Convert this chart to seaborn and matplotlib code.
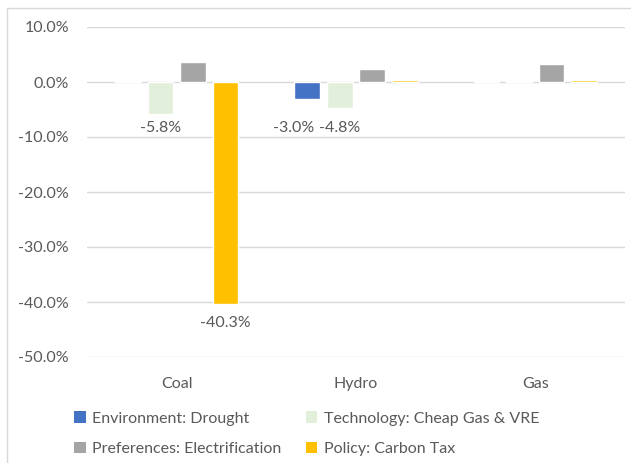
import matplotlib
matplotlib.use("Agg")
import matplotlib.pyplot as plt
import seaborn as sns
import pandas as pd
from matplotlib.lines import Line2D
from matplotlib.patches import Patch

categories = ["Coal", "Hydro", "Gas"]
series = ["Environment: Drought", "Technology: Cheap Gas & VRE",
          "Preferences: Electrification", "Policy: Carbon Tax"]
drought = [0.1, -3.0, 0.1]
technology = [-5.8, -4.8, 0.1]
preferences = [3.6, 2.4, 3.3]
policy = [-40.3, 0.3, 0.3]
labelled = {("Coal", "Technology: Cheap Gas & VRE"), ("Coal", "Policy: Carbon Tax"),
            ("Hydro", "Environment: Drought"), ("Hydro", "Technology: Cheap Gas & VRE")}
label_dx = {("Hydro", "Environment: Drought"): -10}
colors = ["#4472C4", "#E2EFDA", "#A5A5A5", "#FFC000"]
yticks = [10, 0, -10, -20, -30, -40, -50]

rows = []
for s, vals in zip(series, [drought, technology, preferences, policy]):
    for c, v in zip(categories, vals):
        rows.append({"cat": c, "series": s, "value": v})
df = pd.DataFrame(rows)

sns.set_theme(style="white")
plt.rcParams["font.family"] = ["Lato", "DejaVu Sans"]
txt = "#595959"
fs = 11.5

fig = plt.figure(figsize=(6.31, 4.63), dpi=100)
ax = fig.add_axes([87/631, 1-357/463, (625-87)/631, (357-27)/463])
sns.barplot(data=df, x="cat", y="value", hue="series", order=categories,
            hue_order=series, palette=colors, width=0.725, gap=0.215,
            saturation=1, ax=ax, legend=False, errorbar=None)
ax.set_xlim(-0.5, 2.5)
ax.set_ylim(-50, 10)
ax.set_yticks(yticks)
ax.set_yticklabels([f"{t:.1f}%" for t in yticks])
ax.grid(axis="y", color="#D9D9D9", linewidth=1)
ax.set_axisbelow(True)
for sp in ax.spines.values():
    sp.set_visible(False)
ax.tick_params(axis="both", length=0, labelsize=fs, labelcolor=txt)
ax.tick_params(axis="y", pad=13)
ax.tick_params(axis="x", pad=14.5)
ax.set_xlabel("")
ax.set_ylabel("")

# data labels
for container, s in zip(ax.containers, series):
    for bar, c in zip(container, categories):
        if (c, s) in labelled:
            v = bar.get_height()
            y = v - 3.6 if v < -20 else -8.3
            ax.annotate(f"{v:.1f}%", (bar.get_x() + bar.get_width()/2, y),
                        xytext=(label_dx.get((c, s), 0), 0), textcoords="offset points",
                        ha="center", va="center", fontsize=fs, color=txt)

order = [0, 2, 1, 3]
handles = [Patch(facecolor=colors[i], edgecolor="none") for i in order]
fig.legend(handles, [series[i] for i in order], loc="upper left",
           bbox_to_anchor=(60/631, 1-397/463),
           ncol=2, frameon=False, fontsize=fs, labelcolor=txt,
           handlelength=0.7, handleheight=0.7, handletextpad=0.4,
           columnspacing=1.55, labelspacing=1.0)

# outer frame (top and left)
fig.add_artist(Line2D([7/631, 1], [1-8/463, 1-8/463], color="#D9D9D9", lw=1,
                      transform=fig.transFigure))
fig.add_artist(Line2D([7/631, 7/631], [0, 1-8/463], color="#D9D9D9", lw=1,
                      transform=fig.transFigure))

fig.savefig("out.png", dpi=100)
